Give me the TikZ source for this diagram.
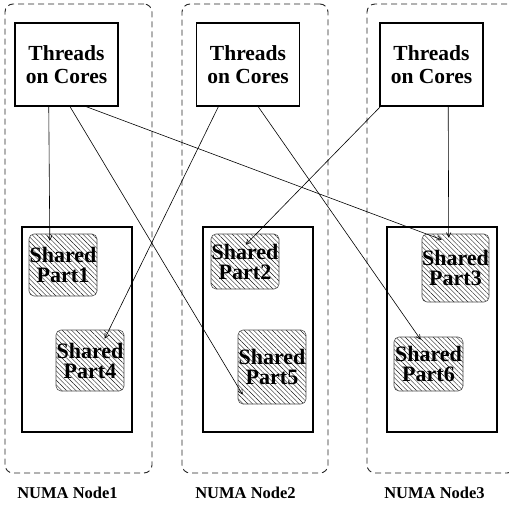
\documentclass[tikz,border=0pt]{standalone}
\usepackage{fontspec}
\setmainfont{Liberation Serif}
\usetikzlibrary{calc,arrows.meta,patterns.meta}
\tikzset{
  numabox/.style={draw=black!85, line width=0.9pt, dash pattern=on 6pt off 4pt,
    rounded corners=8pt, minimum width=#1, minimum height=469pt, inner sep=0pt},
  membox/.style={draw, line width=1.4pt, minimum width=110pt, minimum height=205pt, inner sep=0pt},
  threadbox/.style={draw, line width=1.4pt, minimum width=103pt, minimum height=83pt,
    inner sep=0pt, align=center, font=\fontsize{21.5}{23}\selectfont\bfseries},
  sharedbox/.style={draw=black!70, line width=0.6pt, rounded corners=5pt,
    pattern={Lines[angle=-45,distance=3.3pt,line width=0.4pt]}, pattern color=black!90,
    inner sep=0pt, align=center, font=\fontsize{22}{20}\selectfont\bfseries},
  numalabel/.style={anchor=base, inner sep=0pt, font=\fontsize{16.5}{18}\selectfont\bfseries},
  link/.style={line width=0.6pt, -{Straight Barb[length=4.5pt,width=4.5pt]}}
}
\begin{document}
\begin{tikzpicture}[x=1pt,y=-1pt]
\useasboundingbox (0,0) rectangle (509,506);
\clip (0,0) rectangle (509,506);

% NUMA node outlines
\node[numabox=147pt] (ob1) at (78.5,238.5) {};
\node[numabox=146pt] (ob2) at (255,238.5) {};
\node[numabox=148pt] (ob3) at (441,238.5) {};

% memory regions
\node[membox] (ib1) at (77,329.5) {};
\node[membox] (ib2) at (258,329.5) {};
\node[membox] (ib3) at (442,329.5) {};

% thread groups
\node[threadbox] (t1) at (66.5,64.5) {Threads\\on Cores};
\node[threadbox] (t2) at (248,64.5) {Threads\\on Cores};
\node[threadbox] (t3) at (431.5,64.5) {Threads\\on Cores};

% shared data parts
\node[sharedbox, minimum width=68pt, minimum height=62pt] (p1) at (63,265) {Shared\\Part1};
\node[sharedbox, minimum width=68pt, minimum height=55pt] (p2) at (245,261.5) {Shared\\Part2};
\node[sharedbox, minimum width=67pt, minimum height=68pt] (p3) at (455.5,268) {Shared\\Part3};
\node[sharedbox, minimum width=68pt, minimum height=61pt] (p4) at (90,360.5) {Shared\\Part4};
\node[sharedbox, minimum width=68pt, minimum height=74pt] (p5) at (272,367) {Shared\\Part5};
\node[sharedbox, minimum width=69pt, minimum height=54pt] (p6) at (428.5,364) {Shared\\Part6};

% node labels
\node[numalabel] (l1) at (67.5,498) {NUMA Node1};
\node[numalabel] (l2) at (245.5,498) {NUMA Node2};
\node[numalabel] (l3) at (434.5,498) {NUMA Node3};

% thread-to-data accesses
\draw[link] ($(t1.south west)!0.33!(t1.south east)$) -- ($(p1.north west)+(21,7)$);
\draw[link] ($(t1.south west)!0.534!(t1.south east)$) -- ($(p5.north west)+(5,65)$);
\draw[link] ($(t1.south west)!0.69!(t1.south east)$) -- ($(p3.north west)+(20,6)$);
\draw[link] ($(t2.south west)!0.216!(t2.south east)$) -- ($(p4.north west)+(49,9)$);
\draw[link] ($(t2.south west)!0.598!(t2.south east)$) -- ($(p6.north west)+(27,3)$);
\draw[link] ($(t3.south west)!0.01!(t3.south east)$) -- ($(p2.north west)+(35,11)$);
\draw[link] ($(t3.south west)!0.66!(t3.south east)$) -- ($(p3.north west)+(27,4)$);
\end{tikzpicture}
\end{document}
